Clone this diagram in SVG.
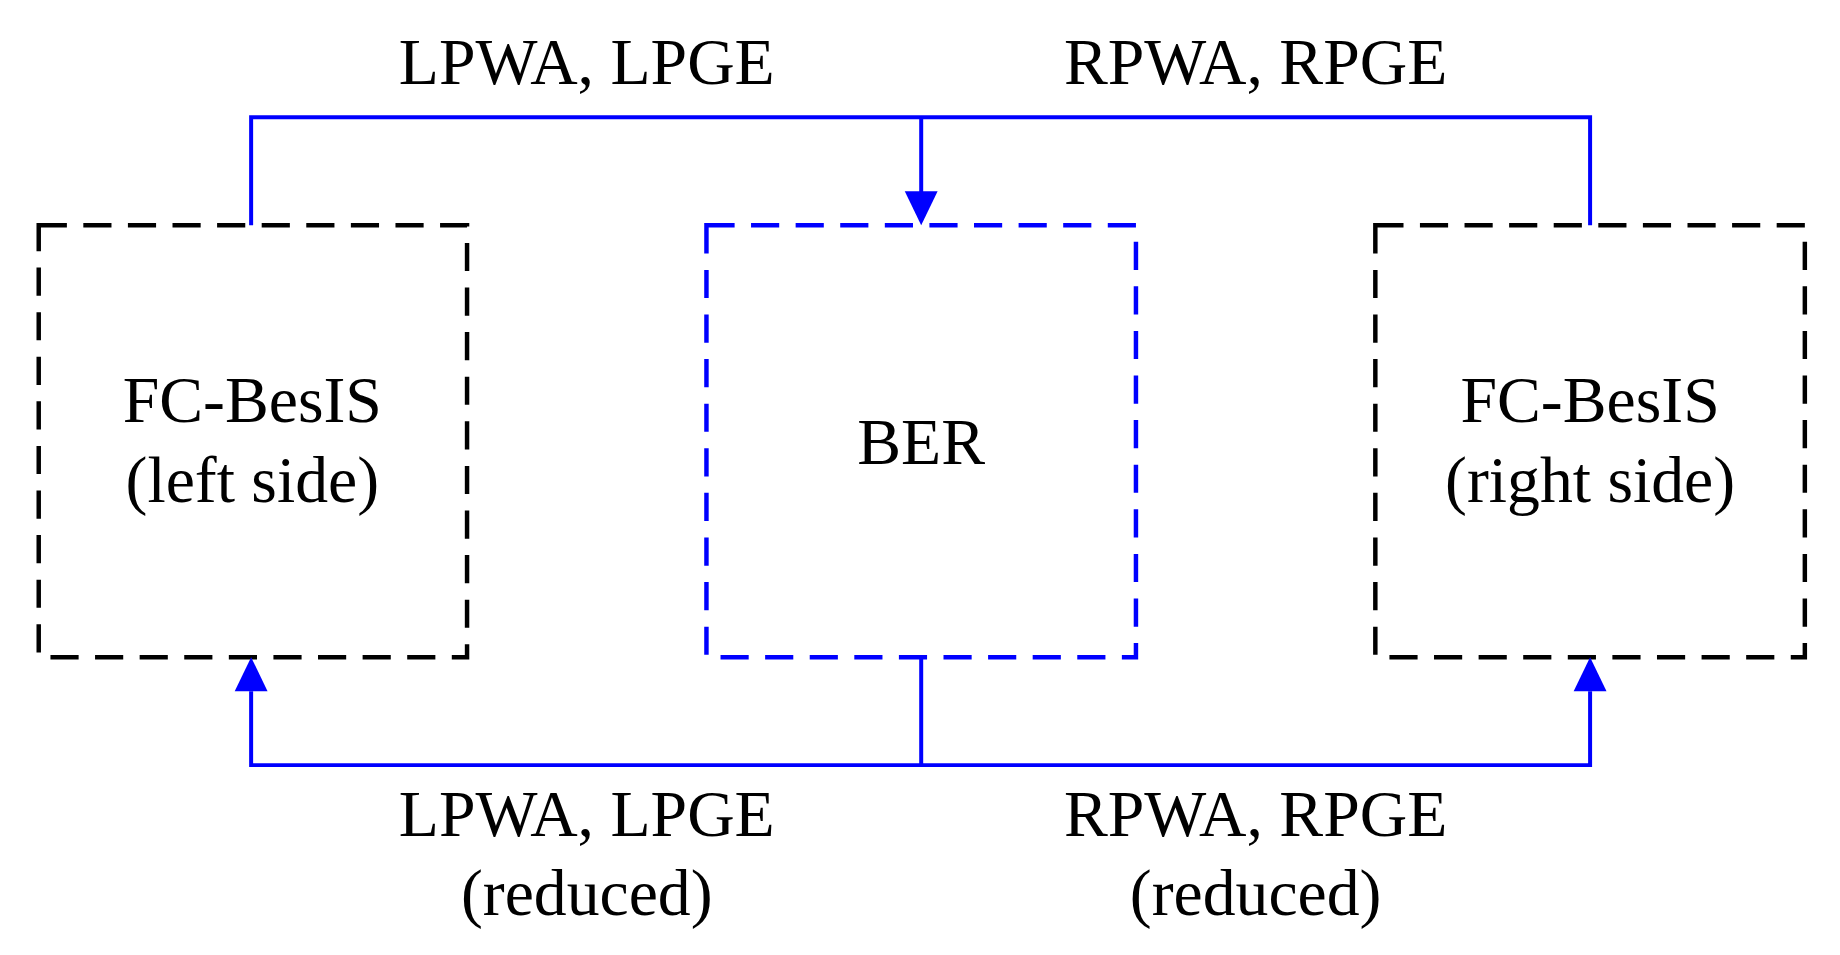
<svg xmlns="http://www.w3.org/2000/svg" width="1840" height="955" viewBox="0 0 1840 955">
<style>
text{font-family:"Liberation Serif","Times New Roman",serif;font-size:56px;fill:#000;text-anchor:middle}
.bx{fill:none;stroke-width:3.8;stroke-dasharray:24 14}
.ln{fill:none;stroke:#0000ff;stroke-width:3.4}
</style>
<rect width="1840" height="955" fill="#fff"/>
<g transform="scale(1.1735)">
<g id="left"><rect class="bx" stroke="#000" x="33" y="192" width="365" height="368"/><text x="215" y="360">FC-BesIS</text><text x="215" y="428">(left side)</text></g>
<g id="ber"><rect class="bx" stroke="#0000ff" x="602" y="192" width="366" height="368"/><text x="785" y="395">BER</text></g>
<g id="right"><rect class="bx" stroke="#000" x="1172" y="192" width="366" height="368"/><text x="1355" y="360">FC-BesIS</text><text x="1355" y="428">(right side)</text></g>
<g id="connectors">
<polyline class="ln" points="214,192 214,100 1355,100 1355,192"/>
<path class="ln" d="M785,100 V165"/><path d="M771,163 L799,163 L785,192 Z" fill="#0000ff"/>
<polyline class="ln" points="214,589 214,652 1355,652 1355,589"/>
<path class="ln" d="M785,560 V652"/>
<path d="M200,589 L228,589 L214,560 Z" fill="#0000ff"/>
<path d="M1341,589 L1369,589 L1355,560 Z" fill="#0000ff"/>
</g>
<g id="labels">
<text x="500" y="72">LPWA, LPGE</text><text x="1070" y="72">RPWA, RPGE</text>
<text x="500" y="712">LPWA, LPGE</text><text x="500" y="780">(reduced)</text>
<text x="1070" y="712">RPWA, RPGE</text><text x="1070" y="780">(reduced)</text>
</g>
</g>
</svg>
